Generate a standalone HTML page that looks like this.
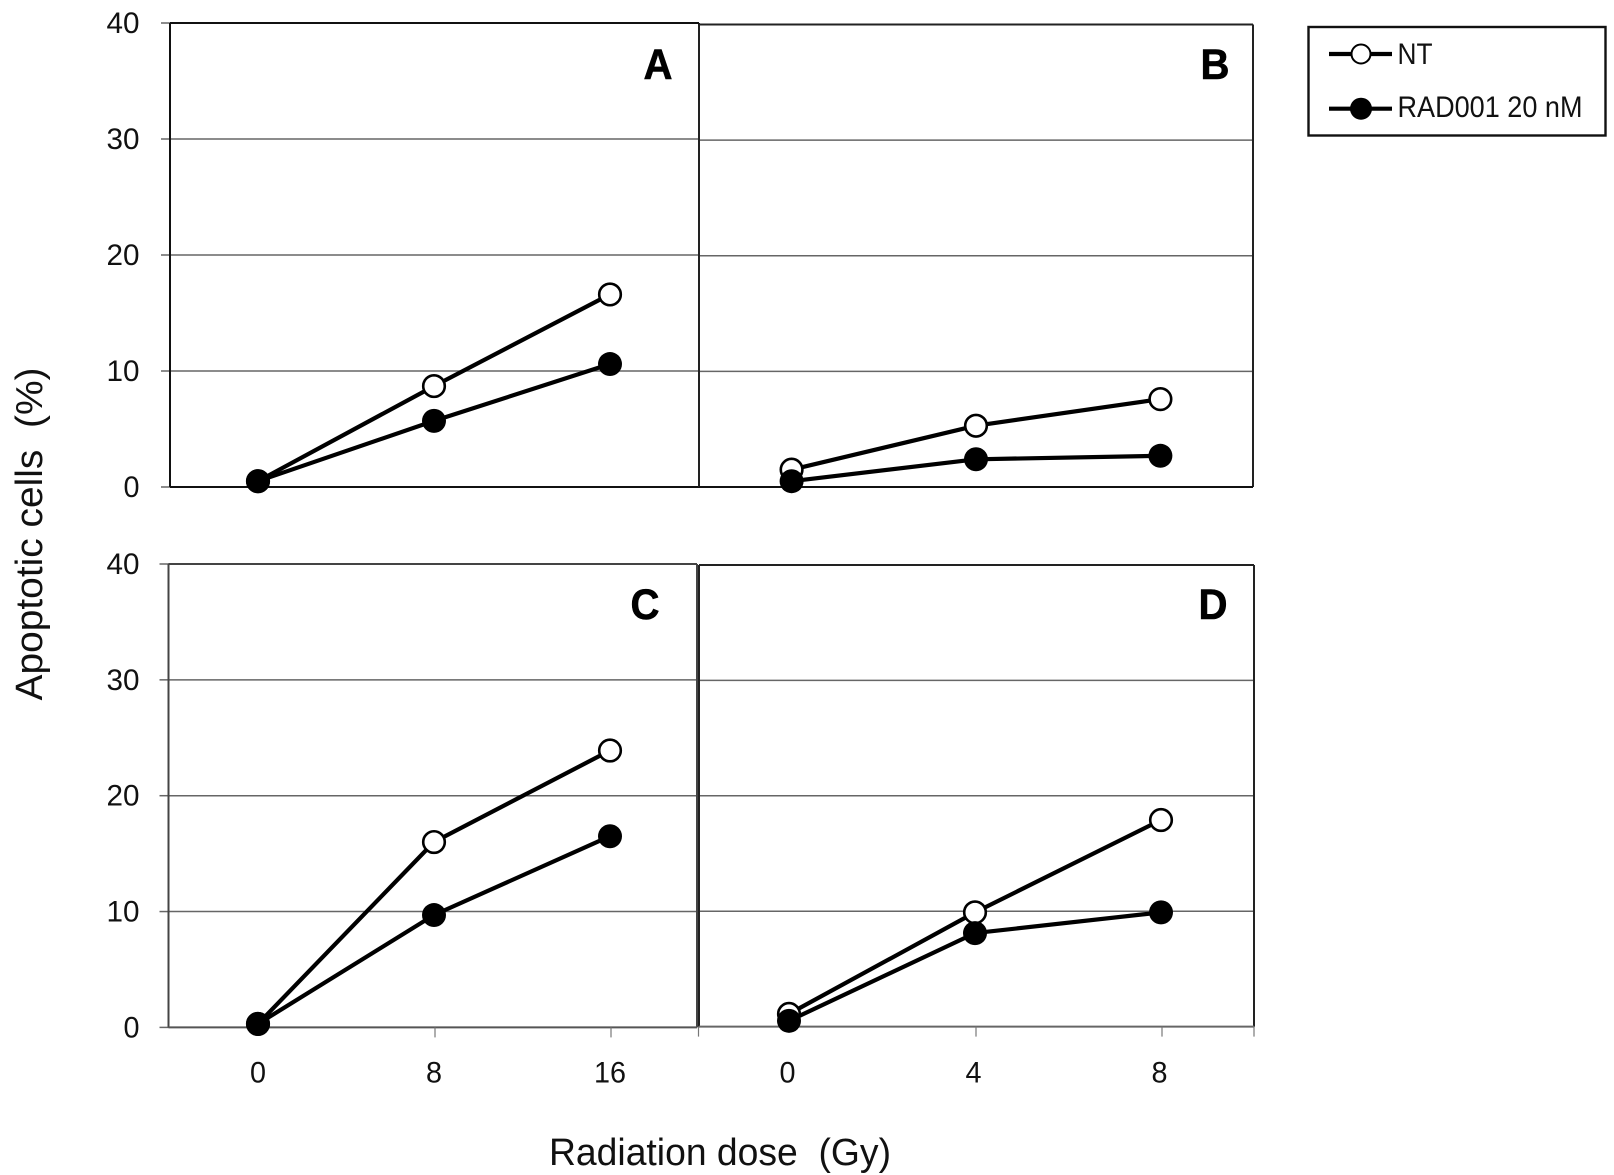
<!DOCTYPE html>
<html lang="en">
<head>
<meta charset="utf-8">
<title>Apoptotic cells vs radiation dose</title>
<style>
html,body{margin:0;padding:0;background:#fff;}
svg{display:block;}
text{font-family:"Liberation Sans",sans-serif;fill:#111;}
</style>
</head>
<body>
<svg id="chart" width="1614" height="1175" viewBox="0 0 1614 1175" xmlns="http://www.w3.org/2000/svg">
  <rect x="0" y="0" width="1614" height="1175" fill="#ffffff"/>
  <g id="panels"></g>
  <text transform="translate(42,534) rotate(-90)" text-anchor="middle" font-size="38" textLength="333" lengthAdjust="spacingAndGlyphs" xml:space="preserve">Apoptotic cells  (%)</text>
  <text x="720" y="1165" text-anchor="middle" font-size="38" textLength="342" lengthAdjust="spacingAndGlyphs" xml:space="preserve">Radiation dose  (Gy)</text>
  <g>
    <rect x="1308.5" y="27" width="297" height="108.5" fill="#fff" stroke="#111" stroke-width="2.4"/>
    <g>
      <line x1="1329" y1="54" x2="1392" y2="54" stroke="#000" stroke-width="4.2"/>
      <circle cx="1361" cy="54" r="9.5" fill="#fff" stroke="#000" stroke-width="2"/>
      <text x="1397.5" y="64" font-size="30" textLength="35" lengthAdjust="spacingAndGlyphs">NT</text>
    </g>
    <g>
      <line x1="1329" y1="108.7" x2="1392" y2="108.7" stroke="#000" stroke-width="4.2"/>
      <circle cx="1361" cy="108.7" r="11" fill="#000"/>
      <text x="1397.5" y="117" font-size="30" textLength="185" lengthAdjust="spacingAndGlyphs">RAD001 20 nM</text>
    </g>
  </g>
</svg>
<script>
// Chart data
const yTickLabels = [0, 10, 20, 30, 40];
const dosesLeft = ['0', '8', '16'];
const dosesRight = ['0', '4', '8'];
const panelANT = [0.5, 8.7, 16.6];
const panelARAD = [0.5, 5.7, 10.6];
const panelBNT = [1.5, 5.3, 7.6];
const panelBRAD = [0.5, 2.4, 2.7];
const panelCNT = [0.3, 16.0, 23.9];
const panelCRAD = [0.3, 9.7, 16.5];
const panelDNT = [1.1, 9.9, 17.9];
const panelDRAD = [0.5, 8.1, 9.9];

const SVG_NS = 'http://www.w3.org/2000/svg';
const root = document.getElementById('panels');
const yMax = 40;

const panels = [
  {id: 'a', letter: 'A', left: 170, right: 699, top: 23, bottom: 487, x0: 258, dx: 176, cats: dosesLeft, nt: panelANT, rad: panelARAD, yAxis: true, xAxis: false, letterX: 658, letterY: 79, frame: '#111', bottomFrame: '#111'},
  {id: 'b', letter: 'B', left: 699, right: 1253, top: 24.5, bottom: 487, x0: 791.6, dx: 184.4, cats: dosesRight, nt: panelBNT, rad: panelBRAD, yAxis: false, xAxis: false, letterX: 1215, letterY: 79, frame: '#222', bottomFrame: '#111'},
  {id: 'c', letter: 'C', left: 168.5, right: 697, top: 564, bottom: 1027.4, x0: 258, dx: 176, cats: dosesLeft, nt: panelCNT, rad: panelCRAD, yAxis: true, xAxis: true, letterX: 645, letterY: 619, frame: '#444', bottomFrame: '#555'},
  {id: 'd', letter: 'D', left: 699, right: 1254, top: 565, bottom: 1026.6, x0: 789, dx: 186, cats: dosesRight, nt: panelDNT, rad: panelDRAD, yAxis: false, xAxis: true, letterX: 1213, letterY: 619, frame: '#222', bottomFrame: '#666'}
];

function yScale(p, v) {
  return p.bottom - (v / yMax) * (p.bottom - p.top);
}
function xScale(p, i) {
  return p.x0 + i * p.dx;
}
function make(tag, attrs, parent) {
  const el = document.createElementNS(SVG_NS, tag);
  for (const k in attrs) el.setAttribute(k, attrs[k]);
  parent.appendChild(el);
  return el;
}

panels.forEach(function (p) {
  const g = make('g', {}, root);
  
  

  // gridlines and y axis
  yTickLabels.forEach(function (tick) {
    const y = yScale(p, tick);
    if (tick > 0 && tick < yMax) {
      const grid = make('line', {x1: p.left, x2: p.right, y1: y, y2: y, stroke: '#666', 'stroke-width': 1.5}, g);
      
      
    }
    if (p.yAxis) {
      const tickMark = make('line', {x1: p.left - 9, x2: p.left, y1: y, y2: y, stroke: '#666', 'stroke-width': 1.5}, g);
      
      
      const label = make('text', {x: 139.5, y: y + 10, 'text-anchor': 'end', 'font-size': 30, 'textLength': String(tick).length > 1 ? 33 : 16, 'lengthAdjust': 'spacingAndGlyphs'}, g);
      label.textContent = tick;
      
      
    }
  });

  // frame
  const frameEdges = [
    ['top', p.left, p.top, p.right, p.top, p.frame],
    ['left', p.left, p.top, p.left, p.bottom, p.frame],
    ['right', p.right, p.top, p.right, p.bottom, p.frame],
    ['bottom', p.left, p.bottom, p.right, p.bottom, p.bottomFrame]
  ];
  frameEdges.forEach(function (e) {
    const edge = make('line', {x1: e[1], y1: e[2], x2: e[3], y2: e[4], stroke: e[5], 'stroke-width': 2}, g);
    
    
  });

  // x axis ticks and labels
  if (p.xAxis) {
    p.cats.forEach(function (cat, i) {
      const x = xScale(p, i);
      if (i > 0) {
        const tickMark = make('line', {x1: x + 1, x2: x + 1, y1: p.bottom, y2: p.bottom + 10, stroke: '#777', 'stroke-width': 1.2}, g);
        
        
      }
      const label = make('text', {x: x - (p.id === 'd' ? 1.5 : 0), y: 1082.5, 'text-anchor': 'middle', 'font-size': 30, 'textLength': cat.length > 1 ? 32 : 16, 'lengthAdjust': 'spacingAndGlyphs'}, g);
      label.textContent = cat;
      
      
    });
    if (p.id === 'd') {
      const endTick = make('line', {x1: p.right, x2: p.right, y1: p.bottom, y2: p.bottom + 10, stroke: '#777', 'stroke-width': 1.2}, g);
      
      
      const boundaryTick = make('line', {x1: 698.5, x2: 698.5, y1: p.bottom, y2: p.bottom + 10, stroke: '#777', 'stroke-width': 1.2}, g);
      
      
    }
  }

  // panel letter
  const letter = make('text', {x: p.letterX, y: p.letterY, 'text-anchor': 'middle', 'font-size': 43, 'font-weight': 'bold', 'textLength': 29, 'lengthAdjust': 'spacingAndGlyphs', stroke: '#000', 'stroke-width': 0.6, style: 'fill:#000'}, g);
  letter.textContent = p.letter;
  
  

  // series: NT first, RAD001 on top
  [['nt', p.nt, '#fff', '#000', 10.8, 2.6], ['rad001', p.rad, '#000', '#000', 12, 0]].forEach(function (s) {
    const sg = make('g', {}, g);
    
    
    const pts = s[1].map(function (v, i) {
      return xScale(p, i).toFixed(1) + ',' + yScale(p, v).toFixed(1);
    }).join(' ');
    const line = make('polyline', {points: pts, fill: 'none', stroke: '#000', 'stroke-width': 4.2, 'stroke-linejoin': 'round'}, sg);
    
    
    s[1].forEach(function (v, i) {
      const pt = make('circle', {cx: xScale(p, i), cy: yScale(p, v), r: s[4], fill: s[2], stroke: s[3], 'stroke-width': s[5]}, sg);
      
      
    });
  });
});
</script>
</body>
</html>
